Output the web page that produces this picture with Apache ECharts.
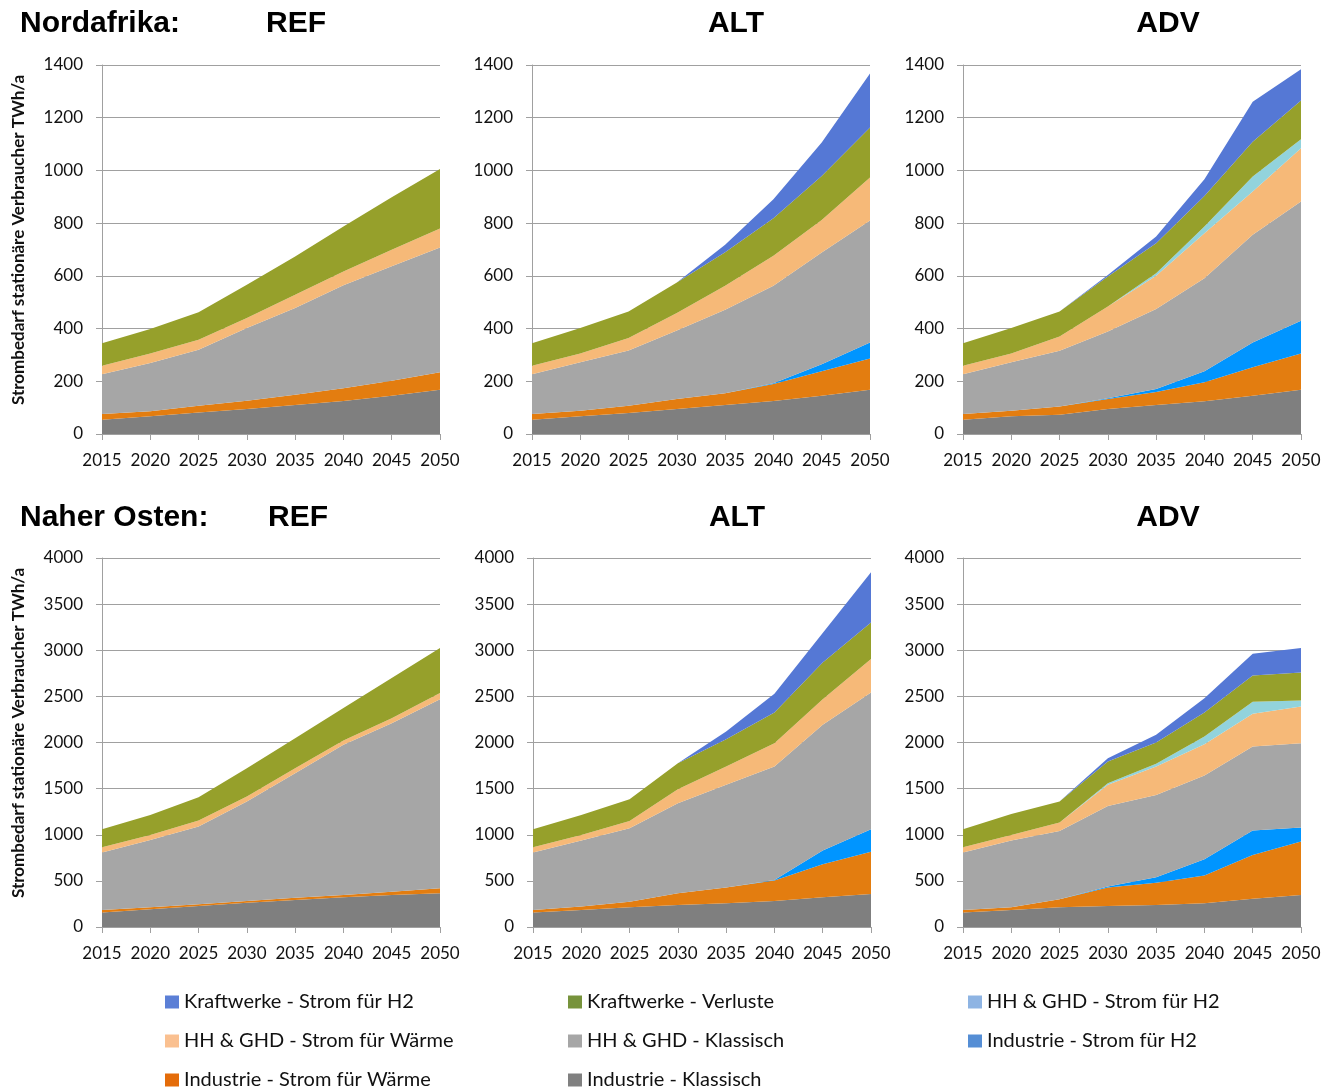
<!DOCTYPE html>
<html>
<head>
<meta charset="utf-8">
<script src="https://cdn.jsdelivr.net/npm/echarts@6/dist/echarts.min.js"></script>
<style>
  html, body { margin: 0; padding: 0; background: #fff; }
  #chart { width: 1335px; height: 1090px; }
</style>
</head>
<body>
<div id="chart"></div>
<script>
const years = ['2015', '2020', '2025', '2030', '2035', '2040', '2045', '2050'];

const seriesNames = [
  'Industrie - Klassisch',
  'Industrie - Strom für Wärme',
  'Industrie - Strom für H2',
  'HH & GHD - Klassisch',
  'HH & GHD - Strom für Wärme',
  'HH & GHD - Strom für H2',
  'Kraftwerke - Verluste',
  'Kraftwerke - Strom für H2'
];
const areaColors = ['#7f7f7f', '#e37d10', '#0095ff', '#a6a6a6', '#f6b978', '#92d3dc', '#96a02b', '#5578d5'];
const legendColors = ['#808080', '#e46c0a', '#558ed5', '#a6a6a6', '#fac090', '#8eb4e3', '#77933c', '#5b7fd6'];

// Nordafrika REF
const naRefIndKlassisch = [54, 67, 82, 95, 110, 125, 145, 168];
const naRefIndWaerme = [22, 19, 25, 31, 39, 49, 57, 66];
const naRefIndH2 = [0, 0, 0, 0, 0, 0, 0, 0];
const naRefHhKlassisch = [151, 183, 213, 276, 329, 390, 434, 474];
const naRefHhWaerme = [32, 36, 38, 38, 50, 53, 63, 72];
const naRefHhH2 = [0, 0, 0, 0, 0, 0, 0, 0];
const naRefKwVerluste = [85, 93, 104, 126, 145, 170, 199, 225];
const naRefKwH2 = [0, 0, 0, 0, 0, 0, 0, 0];

// Nordafrika ALT
const naAltIndKlassisch = [54, 67, 80, 95, 110, 125, 145, 168];
const naAltIndWaerme = [22, 21, 27, 38, 45, 65, 93, 118];
const naAltIndH2 = [0, 0, 0, 0, 0, 3, 27, 61];
const naAltHhKlassisch = [151, 184, 210, 260, 316, 369, 424, 463];
const naAltHhWaerme = [32, 33, 47, 66, 91, 114, 123, 163];
const naAltHhH2 = [0, 0, 0, 0, 0, 0, 0, 0];
const naAltKwVerluste = [85, 97, 101, 116, 128, 143, 167, 190];
const naAltKwH2 = [0, 0, 0, 0, 28, 72, 127, 205];

// Nordafrika ADV
const naAdvIndKlassisch = [54, 67, 73, 95, 110, 124, 145, 168];
const naAdvIndWaerme = [22, 21, 31, 38, 49, 72, 108, 137];
const naAdvIndH2 = [0, 0, 0, 3, 12, 42, 94, 125];
const naAdvHhKlassisch = [151, 184, 212, 253, 303, 353, 409, 452];
const naAdvHhWaerme = [32, 33, 54, 95, 126, 171, 164, 202];
const naAdvHhH2 = [0, 0, 0, 0, 10, 25, 57, 34];
const naAdvKwVerluste = [85, 97, 95, 114, 114, 116, 132, 147];
const naAdvKwH2 = [0, 0, 0, 5, 25, 64, 152, 119];

// Naher Osten REF
const meRefIndKlassisch = [156, 192, 228, 264, 293, 322, 347, 365];
const meRefIndWaerme = [28, 21, 18, 18, 25, 25, 36, 55];
const meRefIndH2 = [0, 0, 0, 0, 0, 0, 0, 0];
const meRefHhKlassisch = [623, 731, 843, 1078, 1349, 1628, 1827, 2050];
const meRefHhWaerme = [57, 54, 65, 54, 55, 47, 54, 66];
const meRefHhH2 = [0, 0, 0, 0, 0, 0, 0, 0];
const meRefKwVerluste = [196, 217, 253, 308, 325, 351, 434, 488];
const meRefKwH2 = [0, 0, 0, 0, 0, 0, 0, 0];

// Naher Osten ALT
const meAltIndKlassisch = [156, 184, 213, 239, 257, 282, 322, 358];
const meAltIndWaerme = [28, 37, 62, 126, 170, 221, 358, 459];
const meAltIndH2 = [0, 0, 0, 0, 0, 7, 148, 243];
const meAltHhKlassisch = [623, 716, 796, 977, 1114, 1230, 1364, 1483];
const meAltHhWaerme = [57, 61, 79, 152, 199, 253, 278, 361];
const meAltHhH2 = [0, 0, 0, 0, 0, 0, 0, 0];
const meAltKwVerluste = [196, 217, 235, 282, 296, 333, 398, 398];
const meAltKwH2 = [0, 0, 0, 0, 84, 202, 319, 543];

// Naher Osten ADV
const meAdvIndKlassisch = [156, 184, 213, 228, 239, 257, 307, 347];
const meAdvIndWaerme = [28, 29, 87, 199, 242, 300, 474, 579];
const meAdvIndH2 = [0, 0, 0, 11, 58, 177, 264, 152];
const meAdvHhKlassisch = [623, 724, 742, 875, 893, 908, 912, 915];
const meAdvHhWaerme = [57, 61, 90, 228, 308, 340, 354, 398];
const meAdvHhH2 = [0, 0, 0, 18, 29, 83, 130, 65];
const meAdvKwVerluste = [196, 228, 228, 235, 231, 261, 286, 304];
const meAdvKwH2 = [0, 0, 0, 36, 83, 155, 235, 264];

const panels = [
  { id: 'naRef', left: 102, top: 65, max: 1400, interval: 200,
    data: [naRefIndKlassisch, naRefIndWaerme, naRefIndH2, naRefHhKlassisch, naRefHhWaerme, naRefHhH2, naRefKwVerluste, naRefKwH2] },
  { id: 'naAlt', left: 532, top: 65, max: 1400, interval: 200,
    data: [naAltIndKlassisch, naAltIndWaerme, naAltIndH2, naAltHhKlassisch, naAltHhWaerme, naAltHhH2, naAltKwVerluste, naAltKwH2] },
  { id: 'naAdv', left: 963, top: 65, max: 1400, interval: 200,
    data: [naAdvIndKlassisch, naAdvIndWaerme, naAdvIndH2, naAdvHhKlassisch, naAdvHhWaerme, naAdvHhH2, naAdvKwVerluste, naAdvKwH2] },
  { id: 'meRef', left: 102, top: 558, max: 4000, interval: 500,
    data: [meRefIndKlassisch, meRefIndWaerme, meRefIndH2, meRefHhKlassisch, meRefHhWaerme, meRefHhH2, meRefKwVerluste, meRefKwH2] },
  { id: 'meAlt', left: 533, top: 558, max: 4000, interval: 500,
    data: [meAltIndKlassisch, meAltIndWaerme, meAltIndH2, meAltHhKlassisch, meAltHhWaerme, meAltHhH2, meAltKwVerluste, meAltKwH2] },
  { id: 'meAdv', left: 963, top: 558, max: 4000, interval: 500,
    data: [meAdvIndKlassisch, meAdvIndWaerme, meAdvIndH2, meAdvHhKlassisch, meAdvHhWaerme, meAdvHhH2, meAdvKwVerluste, meAdvKwH2] }
];

const axisGray = '#a0a0a0';
const labelFont = { fontFamily: 'Lato', fontSize: 17, color: '#111' };

const grids = [];
const xAxes = [];
const yAxes = [];
const series = [];

panels.forEach((p, i) => {
  grids.push({ left: p.left, top: p.top, width: 338, height: 369 });
  xAxes.push({
    gridIndex: i,
    type: 'category',
    data: years,
    boundaryGap: false,
    axisLine: { show: true, lineStyle: { color: axisGray, width: 1 } },
    axisTick: { show: true, length: 6, lineStyle: { color: axisGray } },
    axisLabel: Object.assign({ margin: 18, interval: 0 }, labelFont),
    splitLine: { show: false }
  });
  yAxes.push({
    gridIndex: i,
    type: 'value',
    min: 0,
    max: p.max,
    interval: p.interval,
    axisLine: { show: true, lineStyle: { color: axisGray, width: 1 } },
    axisTick: { show: true, length: 6, lineStyle: { color: axisGray } },
    axisLabel: Object.assign({ margin: 19, formatter: v => String(v) }, labelFont),
    splitLine: { show: true, lineStyle: { color: axisGray, width: 1.2 } }
  });
  p.data.forEach((vals, k) => {
    series.push({
      name: seriesNames[k],
      type: 'line',
      xAxisIndex: i,
      yAxisIndex: i,
      stack: p.id,
      data: vals,
      symbol: 'none',
      lineStyle: { width: 0 },
      areaStyle: { color: areaColors[k], opacity: 1 },
      itemStyle: { color: areaColors[k] },
      emphasis: { disabled: true },
      silent: true,
      z: 2
    });
  });
});

function legendItems(idx) {
  return idx.map(k => ({ name: seriesNames[k], itemStyle: { color: legendColors[k] } }));
}
const legendBase = {
  orient: 'vertical',
  top: 987,
  height: 150,
  icon: 'rect',
  itemWidth: 14,
  itemHeight: 13,
  itemGap: 19,
  selectedMode: false,
  textStyle: { fontFamily: 'Lato', fontSize: 20, lineHeight: 20, color: '#111' }
};

const titleStyle = { fontFamily: 'Liberation Sans', fontSize: 30, fontWeight: 'bold', fill: '#000' };
function titleText(x, y, text, align) {
  return {
    type: 'text',
    x: x, y: y,
    style: Object.assign({ text: text, textAlign: align || 'center', textVerticalAlign: 'middle' }, titleStyle)
  };
}
function yName(y) {
  return {
    type: 'text',
    x: 19, y: y,
    rotation: Math.PI / 2,
    style: {
      text: 'Strombedarf stationäre Verbraucher TWh/a',
      fontFamily: 'Lato', fontSize: 17, fontWeight: 'bold', fill: '#111',
      textAlign: 'center', textVerticalAlign: 'middle'
    }
  };
}

const chart = echarts.init(document.getElementById('chart'), null, { renderer: 'canvas' });
chart.setOption({
  animation: false,
  backgroundColor: '#fff',
  grid: grids,
  xAxis: xAxes,
  yAxis: yAxes,
  series: series,
  legend: [
    Object.assign({ left: 160, data: legendItems([7, 4, 1]) }, legendBase),
    Object.assign({ left: 563, data: legendItems([6, 3, 0]) }, legendBase),
    Object.assign({ left: 963, data: legendItems([5, 2]) }, legendBase)
  ],
  graphic: [
    titleText(20, 24, 'Nordafrika:', 'left'),
    titleText(296, 24, 'REF'),
    titleText(736, 24, 'ALT'),
    titleText(1168, 24, 'ADV'),
    titleText(20, 518, 'Naher Osten:', 'left'),
    titleText(298, 518, 'REF'),
    titleText(737, 518, 'ALT'),
    titleText(1168, 518, 'ADV'),
    yName(240),
    yName(733)
  ]
});
</script>
</body>
</html>
